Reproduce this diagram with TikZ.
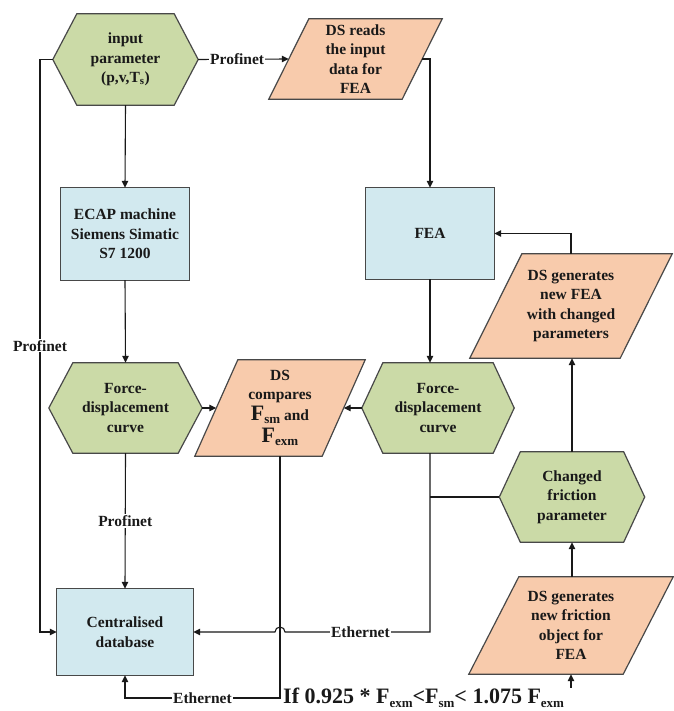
\documentclass[tikz,border=0pt]{standalone}
\usepackage{fontspec}
\setmainfont{Liberation Serif}
\usetikzlibrary{calc,backgrounds,arrows.meta}

\definecolor{hexgreen}{RGB}{203,218,167}
\definecolor{paraorange}{RGB}{248,203,172}
\definecolor{boxblue}{RGB}{210,233,239}
\definecolor{edgegray}{RGB}{72,72,72}
\definecolor{inkdark}{RGB}{25,25,25}

% lowered, smaller subscript next to a large F
\newcommand\lowsub[1]{\raisebox{-0.45ex}{\fontsize{13}{13}\selectfont #1}}
\newcommand\bigF{\fontsize{22}{24}\selectfont F}

% outlines drawn around the (invisible) text nodes
\newcommand\drawhex[2]{%
  \path[hexshape] (#1.west) -- ($(#1.north west)+(#2,0)$) -- ($(#1.north east)+(-#2,0)$)
    -- (#1.east) -- ($(#1.south east)+(-#2,0)$) -- ($(#1.south west)+(#2,0)$) -- cycle;}
\newcommand\drawpara[2]{%
  \path[parashape] ($(#1.north west)+(#2,0)$) -- (#1.north east)
    -- ($(#1.south east)+(-#2,0)$) -- (#1.south west) -- cycle;}
\newcommand\drawbox[1]{%
  \path[boxshape] (#1.north west) rectangle (#1.south east);}

\tikzset{
  txt/.style={font=\bfseries\fontsize{15.5}{19.5}\selectfont, text=inkdark,
    align=center, inner sep=0pt},
  outline/.style={draw=edgegray, line width=1.2pt, line join=miter},
  hexshape/.style={outline, fill=hexgreen},
  parashape/.style={outline, fill=paraorange},
  boxshape/.style={outline, fill=boxblue},
  conn/.style={draw=inkdark, line width=1.1pt},
  arr/.style={conn, -{Triangle[length=7pt,width=6.5pt]}},
  lbl/.style={font=\bfseries\fontsize{15.5}{19.5}\selectfont, text=inkdark,
    fill=white, inner sep=1.2pt},
  condtxt/.style={font=\bfseries\fontsize{22}{24}\selectfont, text=inkdark, inner sep=0pt},
}

\begin{document}
\begin{tikzpicture}[x=1pt,y=-1pt]
\useasboundingbox (0,0) rectangle (673,711);

% ---- text nodes (shapes are drawn behind them) ----
\node[txt, minimum width=145, minimum height=91] (inp) at (125.5,59.5)
  {input\\parameter\\(p,v,T\textsubscript{s})};
\node[txt, minimum width=173, minimum height=80] (ds1) at (355.5,59)
  {DS reads\\the input\\data for\\FEA};
\node[txt, minimum width=128, minimum height=92] (ecap) at (125,234)
  {ECAP machine\\Siemens Simatic\\S7 1200};
\node[txt, minimum width=128, minimum height=91] (fea) at (430,233.5) {FEA};
\node[txt, minimum width=202, minimum height=104] (ds2) at (571,306)
  {DS generates\\new FEA\\with changed\\parameters};
\node[txt, minimum width=153, minimum height=90] (fd1) at (125.5,408)
  {Force-\\displacement\\curve};
\node[txt, minimum width=170, minimum height=96] (cmp) at (280,408)
  {DS\\compares\\[1pt]{\bigF}\lowsub{sm} and\\[3pt]{\bigF}\lowsub{exm}};
\node[txt, minimum width=152, minimum height=90] (fd2) at (438,408)
  {Force-\\displacement\\curve};
\node[txt, minimum width=145, minimum height=90] (chg) at (572,497)
  {Changed\\friction\\parameter};
\node[txt, minimum width=204, minimum height=97] (fobj) at (571,625.5)
  {DS generates\\new friction\\object for\\FEA};
\node[txt, minimum width=136, minimum height=86] (db) at (125,632)
  {Centralised\\database};
\node[condtxt, anchor=west] (cond) at (283,698)
  {If 0.925 * F\lowsub{exm}<F\lowsub{sm}< 1.075 F\lowsub{exm}};

% ---- shape outlines ----
\begin{scope}[on background layer]
  \drawhex{inp}{24}
  \drawhex{fd1}{24}
  \drawhex{fd2}{21}
  \drawhex{chg}{21}
  \drawpara{ds1}{40}
  \drawpara{ds2}{52}
  \drawpara{cmp}{43}
  \drawpara{fobj}{50}
  \drawbox{ecap}
  \drawbox{fea}
  \drawbox{db}
\end{scope}

% bus lines
\coordinate (lbus) at (40,0);
\coordinate (rbus) at (430,0);
\coordinate (boty) at (0,698);

% ---- connectors ----
\draw[arr] (inp.south) -- (ecap.north);
\draw[arr] (inp.east) -- node[lbl, pos=0.43] {Profinet} ($(ds1.west)+(20,0)$);
\draw[arr] ($(ds1.east)+(-20,0)$) -- (fea.north |- ds1.east) -- (fea.north);
\draw[arr] (ecap.south) -- (fd1.north);
\draw[arr] (fd1.east) -- ($(cmp.west)+(21.5,0)$);
\draw[arr] (fd2.west) -- ($(cmp.east)+(-21.5,0)$);
\draw[arr] (fea.south) -- (fea.south |- fd2.north);
\draw[arr] (ds2.north) -- (ds2.north |- fea.east) -- (fea.east);
\draw[arr] (chg.north) -- (chg.north |- ds2.south);
\draw[arr] (chg.south |- fobj.north) -- (chg.south);
\draw[arr] (inp.west) -- (inp.west -| lbus) -- node[lbl] {Profinet} (db.west -| lbus) -- (db.west);
\draw[arr] (fd1.south) -- node[lbl] {Profinet} (db.north);
\draw[conn] (chg.west) -- (chg.west -| rbus);
\draw[arr] (fd2.south -| rbus) -- (db.east -| rbus)
  -- node[lbl, pos=0.48] {Ethernet} ($(db.east -| cmp.south)+(5,0)$)
  arc[start angle=0, end angle=180, radius=5pt] -- (db.east);
\draw[arr] (cmp.south) -- (cmp.south |- boty)
  -- node[lbl] {Ethernet} (db.south |- boty) -- (db.south);
\draw[arr] (fobj.south |- cond.north) -- (fobj.south);
\end{tikzpicture}
\end{document}
